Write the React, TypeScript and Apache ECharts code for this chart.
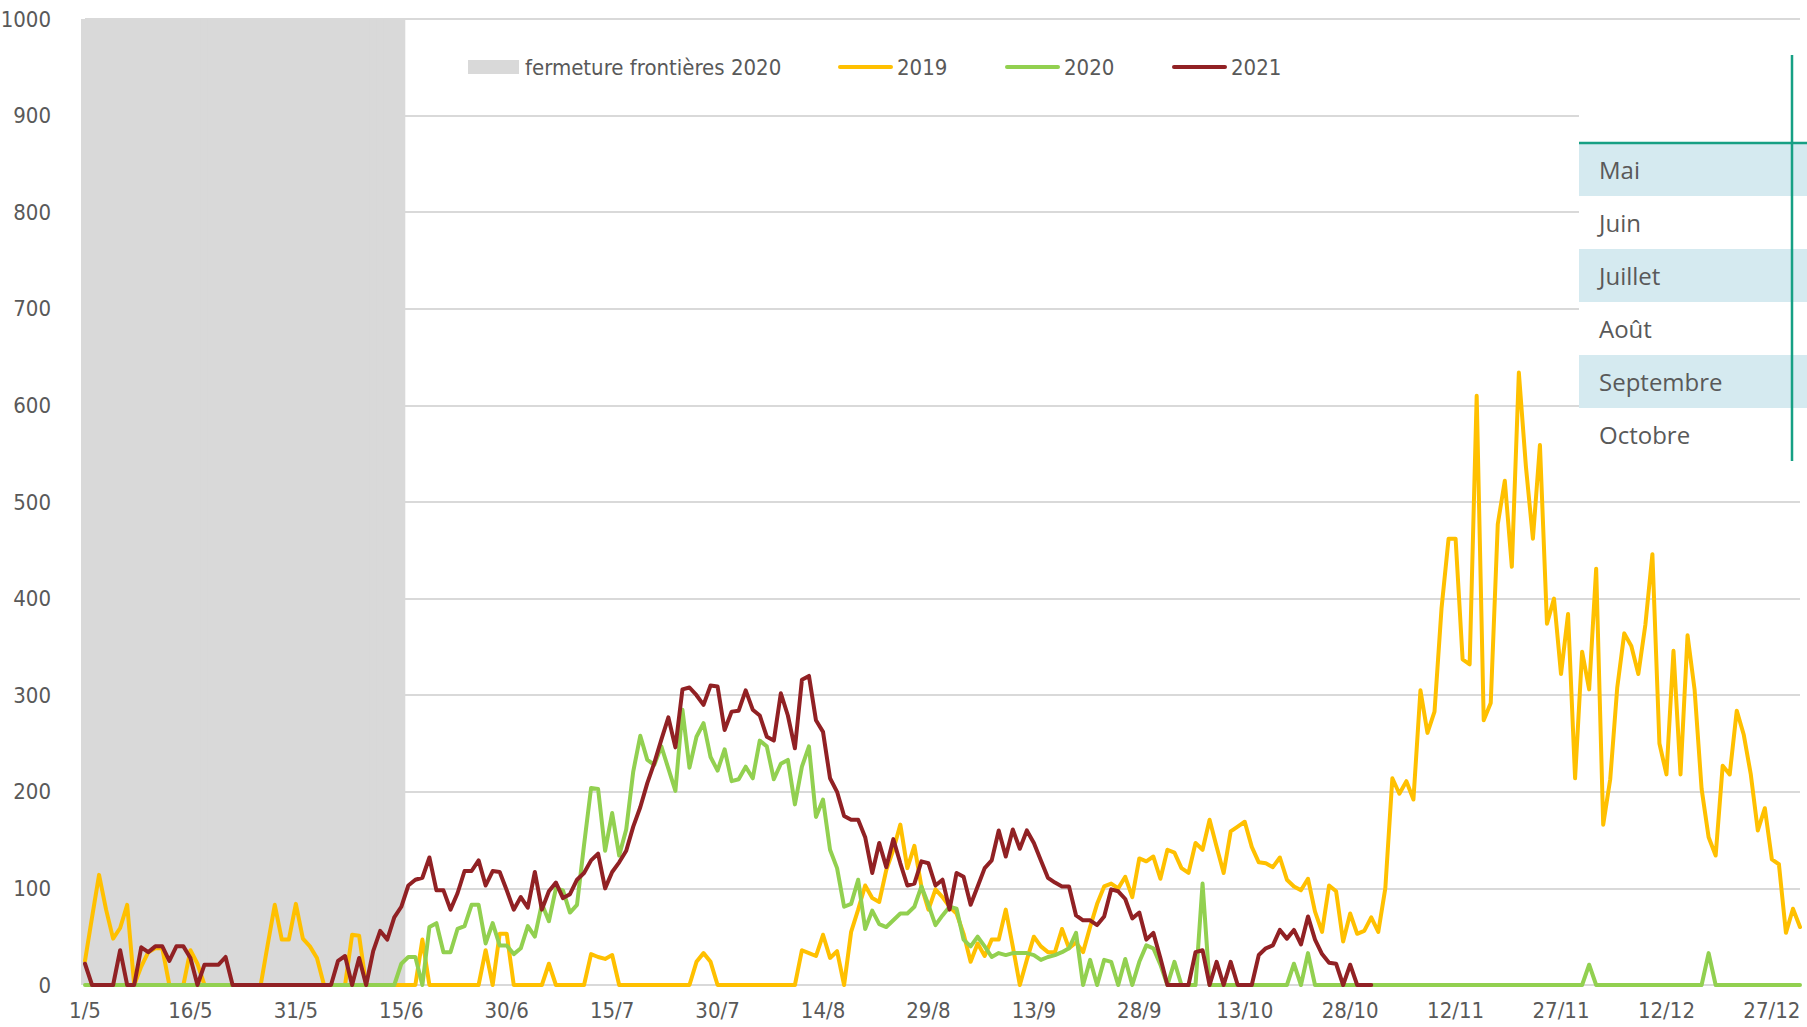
import React, { useEffect, useRef } from "react";
import * as echarts from "echarts";

// month numbers and their day counts (1 May -> 31 Dec)
const months = [5, 6, 7, 8, 9, 10, 11, 12];
const monthDays = [31, 30, 31, 31, 30, 31, 30, 31];
const categories: string[] = [];
months.forEach((m, i) => {
  for (let d = 1; d <= monthDays[i]; d++) categories.push(`${d}/${m}`);
});

const closureEnd = "15/6";
const closureLabel = "fermeture frontières 2020";

const s2019 = [
  25, 70, 114, 78, 48, 59, 83, 0, 19, 34,
  38, 38, 0, 0, 0, 36, 22, 0, 0, 0,
  0, 0, 0, 0, 0, 0, 42, 83, 47, 47,
  84, 48, 40, 28, 0, 0, 0, 0, 52, 51,
  0, 0, 0, 0, 0, 0, 0, 0, 47, 0,
  0, 0, 0, 0, 0, 0, 0, 36, 0, 53,
  53, 0, 0, 0, 0, 0, 22, 0, 0, 0,
  0, 0, 32, 29, 27, 31, 0, 0, 0, 0,
  0, 0, 0, 0, 0, 0, 0, 24, 33, 24,
  0, 0, 0, 0, 0, 0, 0, 0, 0, 0,
  0, 0, 36, 33, 30, 52, 28, 35, 0, 55,
  78, 103, 90, 86, 119, 140, 166, 121, 144, 102,
  78, 99, 91, 81, 74, 53, 24, 43, 30, 47,
  47, 78, 40, 0, 26, 50, 40, 34, 34, 58,
  38, 44, 34, 60, 84, 102, 105, 100, 112, 91,
  131, 128, 133, 110, 140, 137, 121, 116, 147, 140,
  171, 143, 116, 159, 164, 169, 143, 127, 126, 122,
  132, 109, 102, 98, 110, 76, 55, 103, 97, 45,
  74, 53, 56, 70, 55, 100, 214, 198, 211, 192,
  305, 261, 283, 390, 462, 462, 337, 332, 610, 274,
  292, 477, 522, 433, 634, 537, 462, 559, 374, 400,
  322, 384, 214, 345, 306, 431, 166, 213, 308, 364,
  351, 322, 373, 446, 250, 218, 346, 218, 362, 306,
  203, 153, 134, 227, 218, 284, 259, 218, 160, 183,
  130, 125, 54, 79, 60,
];

const s2020 = [
  0, 0, 0, 0, 0, 0, 0, 0, 0, 0,
  0, 0, 0, 0, 0, 0, 0, 0, 0, 0,
  0, 0, 0, 0, 0, 0, 0, 0, 0, 0,
  0, 0, 0, 0, 0, 0, 0, 0, 0, 0,
  0, 0, 0, 0, 0, 22, 29, 29, 0, 60,
  64, 34, 34, 58, 61, 83, 83, 43, 64, 41,
  41, 32, 38, 61, 50, 84, 66, 100, 98, 75,
  83, 145, 204, 203, 139, 178, 134, 161, 221, 258,
  233, 228, 247, 224, 201, 285, 225, 257, 271, 236,
  222, 244, 211, 213, 226, 214, 253, 247, 213, 229,
  233, 187, 226, 247, 174, 192, 140, 121, 81, 84,
  109, 58, 77, 63, 60, 67, 74, 74, 81, 102,
  83, 62, 72, 81, 79, 47, 40, 50, 40, 29,
  33, 31, 33, 33, 33, 31, 26, 29, 31, 34,
  38, 54, 0, 26, 0, 26, 24, 0, 27, 0,
  24, 41, 38, 21, 0, 24, 0, 0, 0, 105,
  0, 0, 0, 0, 0, 0, 0, 0, 0, 0,
  0, 0, 22, 0, 33, 0, 0, 0, 0, 0,
  0, 0, 0, 0, 0, 0, 0, 0, 0, 0,
  0, 0, 0, 0, 0, 0, 0, 0, 0, 0,
  0, 0, 0, 0, 0, 0, 0, 0, 0, 0,
  0, 0, 0, 0, 21, 0, 0, 0, 0, 0,
  0, 0, 0, 0, 0, 0, 0, 0, 0, 0,
  0, 33, 0, 0, 0, 0, 0, 0, 0, 0,
  0, 0, 0, 0, 0,
];

const s2021 = [
  22, 0, 0, 0, 0, 36, 0, 0, 39, 34,
  40, 40, 25, 40, 40, 28, 0, 21, 21, 21,
  29, 0, 0, 0, 0, 0, 0, 0, 0, 0,
  0, 0, 0, 0, 0, 0, 25, 30, 0, 28,
  0, 35, 56, 47, 70, 81, 103, 109, 111, 132,
  98, 98, 78, 95, 118, 118, 129, 103, 118, 117,
  98, 78, 91, 80, 117, 78, 97, 106, 90, 94,
  109, 116, 129, 136, 100, 117, 127, 139, 164, 184,
  209, 230, 254, 277, 246, 306, 308, 300, 290, 310,
  309, 264, 283, 284, 305, 285, 279, 257, 253, 302,
  279, 245, 316, 320, 274, 262, 214, 200, 175, 171,
  171, 153, 116, 147, 122, 151, 126, 103, 105, 128,
  126, 103, 109, 78, 116, 112, 83, 102, 121, 129,
  160, 133, 161, 141, 160, 147, 129, 111, 106, 102,
  102, 72, 67, 67, 62, 71, 99, 97, 89, 69,
  75, 47, 54, 28, 0, 0, 0, 0, 34, 36,
  0, 24, 0, 24, 0, 0, 0, 31, 38, 41,
  57, 48, 57, 42, 71, 47, 32, 23, 22, 0,
  21, 0, 0, 0,
];

const tableMonths = ["Mai", "Juin", "Juillet", "Août", "Septembre", "Octobre"];

const C2019 = "#FFC000";
const C2020 = "#92D050";
const C2021 = "#912124";
const CCLOSE = "#D9D9D9";

const FONT = "'Liberation Sans Narrow', 'DejaVu Sans Condensed', 'Liberation Sans', sans-serif";
const TXT = "#595959";

export default function App() {
  const ref = useRef<HTMLDivElement>(null);
  useEffect(() => {
    if (!ref.current) return;
    const chart = echarts.init(ref.current, null, { renderer: "svg" });
    const endIdx = categories.indexOf(closureEnd);
    const closure = categories.map((_, i) => (i <= endIdx ? 1000 : "-"));

    const rowTop = 143;
    const rowH = 53;
    const graphics: any[] = [
      { type: "rect", z: 100, shape: { x: 1579, y: 40, width: 228, height: 421 }, style: { fill: "#ffffff" } },
    ];
    tableMonths.forEach((m, i) => {
      if (i % 2 === 0) {
        graphics.push({
          type: "rect",
          z: 101,
          shape: { x: 1579, y: rowTop + i * rowH, width: 228, height: rowH },
          style: { fill: "#D5EAF0" },
        });
      }
      graphics.push({
        type: "text",
        z: 102,
        x: 1599,
        y: rowTop + i * rowH + rowH / 2,
        style: { text: m, fill: TXT, font: "24px 'Open Sans', sans-serif", verticalAlign: "middle", align: "left" },
      });
    });
    graphics.push({
      type: "line",
      z: 103,
      shape: { x1: 1579, y1: rowTop, x2: 1807, y2: rowTop },
      style: { stroke: "#17A084", lineWidth: 2.5 },
    });
    graphics.push({
      type: "line",
      z: 103,
      shape: { x1: 1792, y1: 55, x2: 1792, y2: 461 },
      style: { stroke: "#17A084", lineWidth: 2.5 },
    });

    // legend (drawn manually for exact icon shapes)
    const legY = 67;
    graphics.push({ type: "rect", z: 50, shape: { x: 468, y: legY - 7, width: 51, height: 14 }, style: { fill: CCLOSE } });
    graphics.push({
      type: "text", z: 50, x: 525, y: legY,
      style: { text: closureLabel, fill: TXT, font: `22px ${FONT}`, verticalAlign: "middle", align: "left" },
    });
    const legLines: [string, string, number][] = [
      ["2019", C2019, 838],
      ["2020", C2020, 1005],
      ["2021", C2021, 1172],
    ];
    legLines.forEach(([name, color, x]) => {
      graphics.push({
        type: "line", z: 50,
        shape: { x1: x + 2, y1: legY, x2: x + 53, y2: legY },
        style: { stroke: color, lineWidth: 4, lineCap: "round" },
      });
      graphics.push({
        type: "text", z: 50, x: x + 59, y: legY,
        style: { text: name, fill: TXT, font: `22px ${FONT}`, verticalAlign: "middle", align: "left" },
      });
    });

    const lineSeries = (name: string, data: number[], color: string) => ({
      name,
      type: "line",
      data,
      symbol: "none",
      z: 3,
      lineStyle: { color, width: 4, join: "round", cap: "round" },
      itemStyle: { color },
    });

    chart.setOption({
      animation: false,
      grid: { left: 85, right: 7, top: 19, bottom: 42, outerBoundsMode: "none", containLabel: false },
      xAxis: {
        type: "category",
        data: categories,
        boundaryGap: false,
        axisLine: { show: false },
        axisTick: { show: false },
        axisLabel: { interval: 14, color: TXT, fontSize: 22, fontFamily: FONT, margin: 14 },
        splitLine: { show: false },
      },
      yAxis: {
        type: "value",
        min: 0,
        max: 1000,
        interval: 100,
        axisLine: { show: false },
        axisTick: { show: false },
        axisLabel: { color: TXT, fontSize: 22, fontFamily: FONT, margin: 34, formatter: (v: number) => String(v) },
        splitLine: { lineStyle: { color: "#D9D9D9", width: 2 } },
      },
      series: [
        {
          name: closureLabel,
          type: "bar",
          data: closure,
          barWidth: 8,
          clip: true,
          z: 1,
          itemStyle: { color: CCLOSE },
        },
        lineSeries("2019", s2019, C2019),
        lineSeries("2020", s2020, C2020),
        lineSeries("2021", s2021, C2021),
      ],
      graphic: graphics,
    });
    return () => chart.dispose();
  }, []);
  return (
    <div
      ref={ref}
      style={{ position: "fixed", left: 0, top: 0, width: 1807, height: 1027, background: "#fff" }}
    />
  );
}
